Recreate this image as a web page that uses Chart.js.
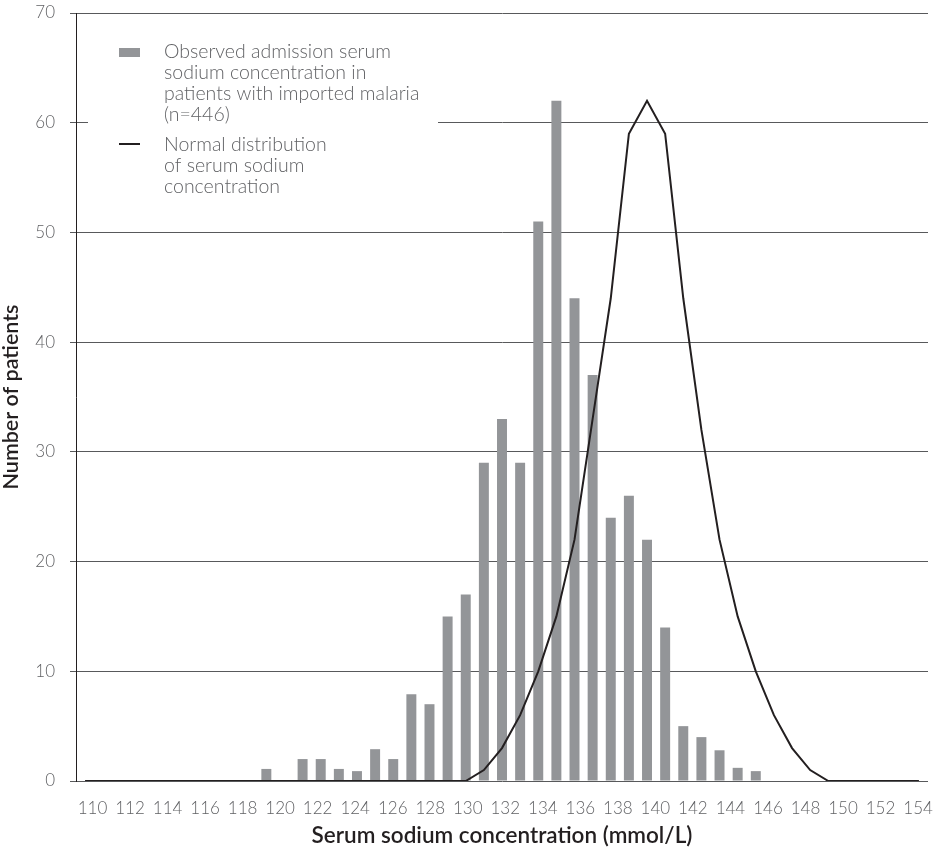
<!DOCTYPE html>
<html>
<head>
<meta charset="utf-8">
<script src="https://cdn.jsdelivr.net/npm/chart.js@4.4.1/dist/chart.umd.min.js"></script>
<style>
  html, body { margin: 0; padding: 0; background: #ffffff; overflow: hidden; }
  canvas { display: block; }
</style>
</head>
<body>
<canvas id="sodiumChart" width="933" height="853"></canvas>
<script>
// Serum sodium bins (mmol/L), one per 1 mmol/L
const sodiumLevels = [
  110, 111, 112, 113, 114, 115, 116, 117, 118, 119,
  120, 121, 122, 123, 124, 125, 126, 127, 128, 129,
  130, 131, 132, 133, 134, 135, 136, 137, 138, 139,
  140, 141, 142, 143, 144, 145, 146, 147, 148, 149,
  150, 151, 152, 153, 154, 155, 156
];

// Observed admission serum sodium, number of patients per bin
const observedPatients = [
  0, 0, 0, 0, 0, 0, 0, 0, 0, 0,
  1.1, 0, 2, 2, 1.1, 0.9, 2.9, 2, 7.9, 7,
  15, 17, 29, 33, 29, 51, 62, 44, 37, 24,
  26, 22, 14, 5, 4, 2.8, 1.2, 0.9, 0, 0,
  0, 0, 0, 0, 0, 0, 0
];

// Normal distribution of serum sodium, scaled to patient counts
const normalDistribution = [
  0, 0, 0, 0, 0, 0, 0, 0, 0, 0,
  0, 0, 0, 0, 0, 0, 0, 0, 0, 0,
  0, 0, 1, 3, 6, 10, 15, 22, 33, 44,
  59, 62, 59, 44, 32, 22, 15, 10, 6, 3,
  1, 0, 0, 0, 0, 0, 0
];

// Printed tick row along the sodium axis
const tickValues = [110, 112, 114, 116, 118, 120, 122, 124, 126, 128, 130, 132,
                    134, 136, 138, 140, 142, 144, 146, 148, 150, 152, 154];
const tickLabels = ['110', '112', '114', '116', '118', '120', '122', '124', '126', '128', '130', '132',
                    '134', '136', '138', '140', '142', '144', '146', '148', '150', '152', '154'];

const yTicks = [0, 10, 20, 30, 40, 50, 60, 70];

const seriesNames = {
  observed: ['Observed admission serum', 'sodium concentration in', 'patients with imported malaria', '(n=446)'],
  normal: ['Normal distribution', 'of serum sodium', 'concentration']
};

const BAR_GREY = '#939598';
const INK = '#231f20';
const TEXT_GREY = '#616265';
const GRID = '#58595b';
const FAMILY = 'Lato, "Open Sans", sans-serif';

// Legend panel sitting inside the plot, on a white ground over the grid
const panelLegend = {
  id: 'panelLegend',
  beforeDatasetsDraw(chart) {
    const { ctx, chartArea: a } = chart;
    ctx.save();
    ctx.fillStyle = '#ffffff';
    ctx.fillRect(a.left + 12, a.top + 17, 350, 172);

    const textX = a.left + 88;
    const lineGap = 21;
    ctx.font = '300 19.5px ' + FAMILY;
    ctx.fillStyle = TEXT_GREY;
    ctx.textAlign = 'left';
    ctx.textBaseline = 'alphabetic';

    // bar series
    ctx.save();
    ctx.fillStyle = BAR_GREY;
    ctx.fillRect(a.left + 43, a.top + 35, 21, 9);
    ctx.restore();
    seriesNames.observed.forEach((t, i) => ctx.fillText(t, textX, a.top + 44.5 + i * lineGap));

    // curve series
    ctx.save();
    ctx.strokeStyle = INK;
    ctx.lineWidth = 2;
    ctx.beginPath();
    ctx.moveTo(a.left + 43, a.top + 131);
    ctx.lineTo(a.left + 64, a.top + 131);
    ctx.stroke();
    ctx.restore();
    seriesNames.normal.forEach((t, i) => ctx.fillText(t, textX, a.top + 137.5 + i * lineGap));

    ctx.restore();
  }
};

new Chart(document.getElementById('sodiumChart'), {
  type: 'bar',
  data: {
    labels: sodiumLevels,
    datasets: [
      {
        type: 'line',
        label: seriesNames.normal.join(' '),
        data: normalDistribution,
        borderColor: INK,
        borderWidth: 2,
        pointRadius: 0,
        tension: 0,
        fill: false,
        order: 0
      },
      {
        type: 'bar',
        label: seriesNames.observed.join(' '),
        data: observedPatients,
        backgroundColor: BAR_GREY,
        borderWidth: 0,
        barPercentage: 0.55,
        categoryPercentage: 1,
        order: 1
      }
    ]
  },
  options: {
    responsive: false,
    animation: false,
    layout: { padding: { left: 0, right: 5, top: 13, bottom: 0 } },
    plugins: {
      legend: { display: false },
      tooltip: { enabled: false }
    },
    scales: {
      x: {
        type: 'category',
        display: false,
        offset: true
      },
      xTicks: {
        type: 'linear',
        axis: 'x',
        position: 'bottom',
        offset: false,
        min: 109.12,
        max: 154.53,
        grid: { display: false, drawTicks: false, offset: false },
        border: { display: false },
        afterBuildTicks: (axis) => { axis.ticks = tickValues.map(v => ({ value: v })); },
        afterFit: (s) => { s.height = 72; s.paddingLeft = 0; s.paddingRight = 0; },
        ticks: {
          autoSkip: false,
          maxRotation: 0,
          padding: 17,
          color: TEXT_GREY,
          font: { family: FAMILY, size: 17, weight: '300' },
          callback: (value, index) => tickLabels[index]
        },
        title: {
          display: true,
          text: 'Serum sodium concentration (mmol/L)',
          color: INK,
          font: { family: FAMILY, size: 22.5, weight: '600', lineHeight: 1 },
          padding: { top: 0, bottom: 6.5 }
        }
      },
      y: {
        min: 0,
        max: 70,
        afterBuildTicks: (axis) => { axis.ticks = yTicks.map(v => ({ value: v })); },
        afterFit: (s) => { s.width = 76; s.paddingTop = 0; s.paddingBottom = 0; },
        grid: { color: GRID, lineWidth: 1, drawTicks: true, tickLength: 6 },
        border: { display: true, color: INK, width: 1 },
        ticks: {
          padding: 15,
          color: TEXT_GREY,
          font: { family: FAMILY, size: 17, weight: '300' }
        },
        title: {
          display: true,
          text: 'Number of patients',
          color: INK,
          font: { family: FAMILY, size: 21.5, weight: '600', lineHeight: 1 },
          padding: { top: 0, bottom: 0 }
        }
      }
    }
  },
  plugins: [panelLegend]
});
</script>
</body>
</html>
